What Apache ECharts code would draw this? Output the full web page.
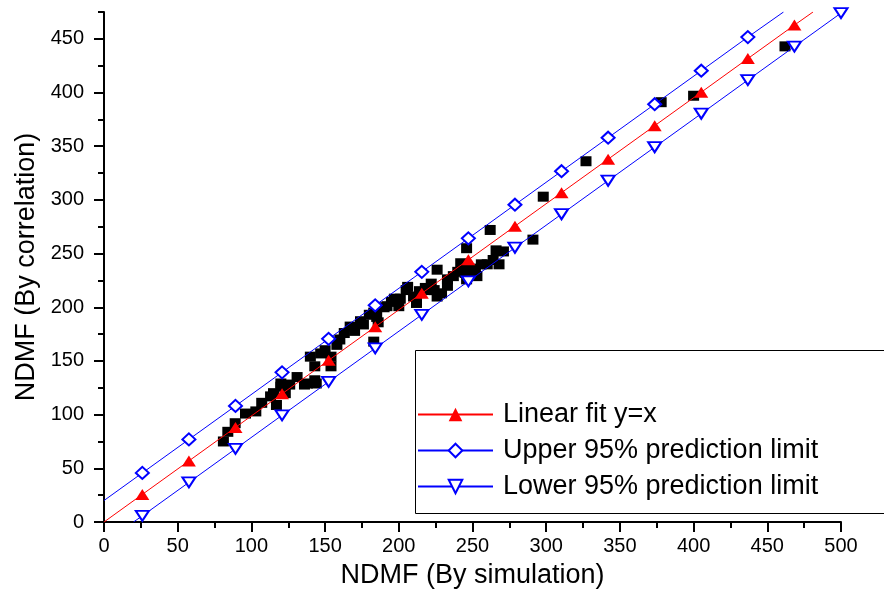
<!DOCTYPE html>
<html>
<head>
<meta charset="utf-8">
<script src="https://cdn.jsdelivr.net/npm/echarts@6/dist/echarts.min.js"></script>
<style>
html,body{margin:0;padding:0;background:#fff;}
#chart{width:884px;height:598px;}
</style>
</head>
<body>
<div id="chart"></div>
<script>
// ---- data ----
const xTickLabels = ['0','50','100','150','200','250','300','350','400','450','500'];
const yTickLabels = ['0','50','100','150','200','250','300','350','400','450'];

// black squares: simulation (x) vs correlation (y)
const simX = [81,84,89,96,103,107,117,115,123,120,126,131,136,138,143,144,113,120,
  140,143,147,150,154,154,158,160,163,167,170,174,176,180,183,183,185,186,
  190,192,195,197,200,201,205,206,210,212,214,218,219,222,224,226,226,229,233,233,237,240,242,245,246,246,249,252,253,256,260,262,264,266,271,268,
  291,298,327,378,400,462];
const simY = [75,84,92,101,103,111,109,120,120,129,128,135,128,129,132,129,117,126,
  154,145,157,160,154,145,165,170,176,182,178,187,184,193,168,195,191,186,
  200,201,205,208,201,208,216,219,210,204,215,218,216,222,216,235,210,213,220,226,229,233,241,232,226,255,236,234,229,240,240,272,244,253,252,240,
  263,303,336,391,397,443];

// marker positions of the fit / prediction limit curves
const fitX   = [26,57.6,89.2,120.8,152.4,184,215.6,247.2,278.8,310.4,342,373.6,405.2,436.8,468.4,500];
const fitY   = [25.7,56.9,88.1,119.4,150.6,181.8,213.0,244.2,275.5,306.7,337.9,369.1,400.3,431.6,462.8];
const upperY = [45.7,76.9,108.1,139.4,170.6,201.8,233.0,264.2,295.5,326.7,357.9,389.1,420.3,451.6];
const lowerY = [5.7,36.9,68.1,99.4,130.6,161.8,193.0,224.2,255.5,286.7,317.9,349.1,380.3,411.6,442.8,474.0];

// line end points (where each line meets the frame)
const fitStart = [0,0],   fitEnd = [481,475];
const upperStart = [0,20], upperEnd = [461,475];
const lowerStart = [20,0];

const seriesNames = ['Linear fit y=x','Upper 95% prediction limit','Lower 95% prediction limit'];

// ---- build ----
function curve(start, ys, end){
  const d = [{value:start, symbol:'none'}];
  ys.forEach((y,i)=>d.push([fitX[i], y]));
  if (end) d.push({value:end, symbol:'none'});
  return d;
}
const FONT = "'Liberation Sans', Arial, sans-serif";
const chart = echarts.init(document.getElementById('chart'), null, {renderer:'canvas'});
const majorY = [0,50,100,150,200,250,300,350,400,450];

chart.setOption({
  animation:false,
  backgroundColor:'#fff',
  textStyle:{fontFamily:FONT},
  grid:{left:104, right:43, top:12, bottom:76, containLabel:false},
  xAxis:{
    type:'value', min:0, max:500, interval:50,
    name:'NDMF (By simulation)', nameLocation:'middle', nameGap:40,
    nameTextStyle:{fontSize:27, color:'#000', fontFamily:FONT},
    axisLine:{show:true, onZero:false, lineStyle:{color:'#000', width:2}},
    axisTick:{show:true, inside:false, length:10, lineStyle:{color:'#000', width:2}},
    minorTick:{show:true, splitNumber:2, length:6, lineStyle:{color:'#000', width:2}},
    axisLabel:{fontSize:20, color:'#000', margin:14, fontFamily:FONT,
      formatter:(v)=>xTickLabels[Math.round(v/50)] ?? ''},
    splitLine:{show:false}
  },
  yAxis:[{
    type:'value', min:0, max:475, interval:50,
    name:'NDMF (By correlation)', nameLocation:'middle', nameGap:58,
    nameTextStyle:{fontSize:27, color:'#000', fontFamily:FONT},
    axisLine:{show:true, onZero:false, lineStyle:{color:'#000', width:2}},
    axisTick:{show:true, inside:false, length:10, customValues:majorY, lineStyle:{color:'#000', width:2}},
    axisLabel:{fontSize:20, color:'#000', margin:20, fontFamily:FONT,
      customValues:majorY,
      formatter:(v)=>yTickLabels[Math.round(v/50)] ?? ''},
    splitLine:{show:false}
  },{
    type:'value', min:0, max:475, interval:25, position:'left', offset:0,
    axisLine:{show:false},
    axisTick:{show:true, inside:false, length:6, lineStyle:{color:'#000', width:2}},
    axisLabel:{show:false},
    splitLine:{show:false}
  }],
  legend:{
    data:seriesNames, orient:'vertical', left:417, top:401, padding:0,
    itemWidth:75, itemHeight:17, itemGap:9, selectedMode:false,
    textStyle:{fontSize:27, color:'#000', fontFamily:FONT, padding:[0,0,0,5]}
  },
  graphic:[{type:'rect', left:413, top:348, shape:{width:469, height:163},
    style:{fill:'none', stroke:'#000', lineWidth:1}, silent:true}],
  series:[
    {type:'scatter', name:'data', data:simX.map((x,i)=>[x, simY[i]]),
      symbol:'rect', symbolSize:[11,10], itemStyle:{color:'#000', opacity:1}, silent:true, z:1},
    {type:'line', name:seriesNames[0], data:curve(fitStart, fitY, fitEnd),
      symbol:'triangle', symbolSize:[14,11], showSymbol:true,
      lineStyle:{color:'#ff0000', width:1}, itemStyle:{color:'#ff0000', borderWidth:0}, silent:true, z:3},
    {type:'line', name:seriesNames[1], data:curve(upperStart, upperY, upperEnd),
      symbol:'diamond', symbolSize:[13,12], showSymbol:true,
      lineStyle:{color:'#0000ff', width:1}, itemStyle:{color:'#fff', borderColor:'#0000ff', borderWidth:2}, silent:true, z:3},
    {type:'line', name:seriesNames[2], data:curve(lowerStart, lowerY, null),
      symbol:'path://M0,0L20,0L10,15Z', symbolSize:[13,10], showSymbol:true,
      lineStyle:{color:'#0000ff', width:1}, itemStyle:{color:'#fff', borderColor:'#0000ff', borderWidth:2}, silent:true, z:3}
  ]
});
</script>
</body>
</html>
